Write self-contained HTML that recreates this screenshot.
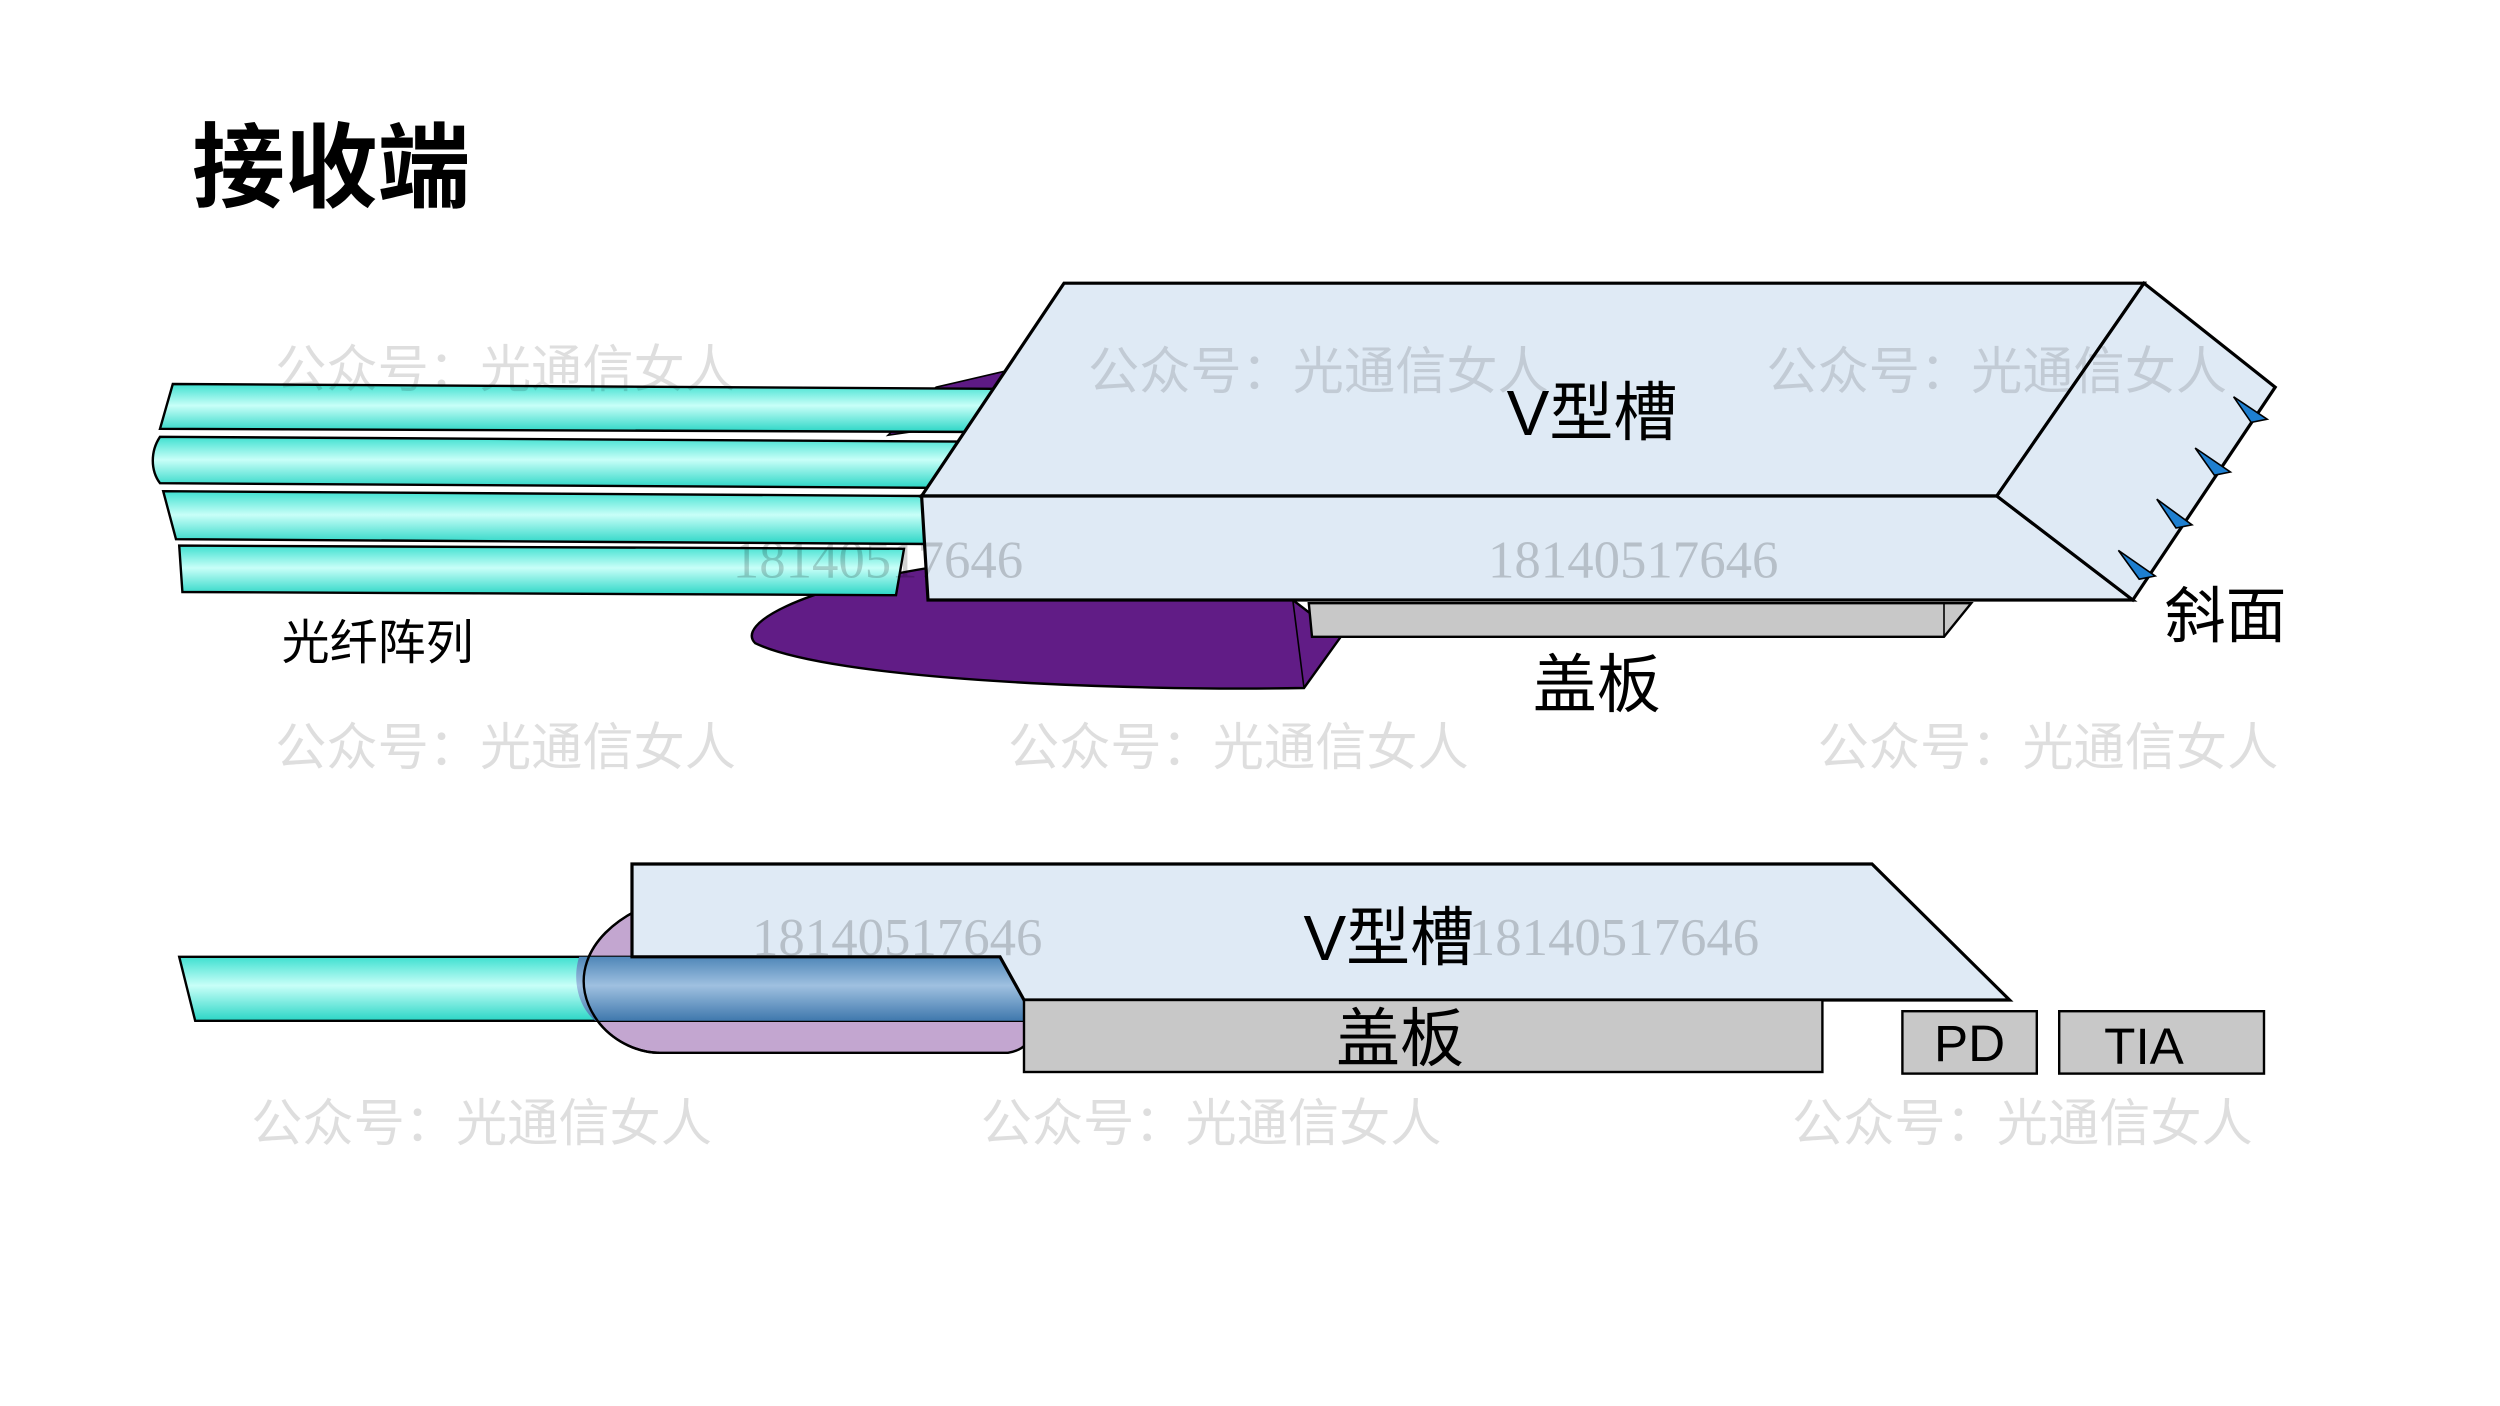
<!DOCTYPE html>
<html><head><meta charset="utf-8"><style>
html,body{margin:0;padding:0;background:#fff;}
svg{display:block;}
</style></head><body>
<svg width="2500" height="1406" viewBox="0 0 1562.5 878.75" xmlns="http://www.w3.org/2000/svg">
<defs>
<linearGradient id="cy" x1="0" y1="0" x2="0" y2="1">
<stop offset="0" stop-color="#3ee0d0"/><stop offset="0.45" stop-color="#c8fff8"/><stop offset="1" stop-color="#2bd6c6"/>
</linearGradient>
<linearGradient id="bl" x1="0" y1="0" x2="0" y2="1">
<stop offset="0" stop-color="#4f86b8"/><stop offset="0.45" stop-color="#9fc0e0"/><stop offset="1" stop-color="#3f78ad"/>
</linearGradient>
</defs>
<rect width="1562.5" height="878.75" fill="#fff"/>
<text x="120" y="125" font-family="Liberation Sans, Noto Sans CJK SC, sans-serif" font-weight="bold" font-size="58" fill="#000">接收端</text>

<path d="M585,242 L628,232 L625,262 L555,272 Z" fill="#5e1a85" stroke="#000"/>
<path d="M790,354 L808,375 L838,398 L815,430 C700,432 520,425 472,402 C460,390 500,368 580,355 Z" fill="#611c86" stroke="#000" stroke-width="1.5"/>
<path d="M808,375 L815,430" stroke="#000" fill="none"/>

<path d="M108,240 L620,243 L618,270 L100,268 Z" fill="url(#cy)" stroke="#000" stroke-width="1.5"/>
<path d="M100,273 L600,276 L598,305 L100,302 C94,294 94,282 100,273 Z" fill="url(#cy)" stroke="#000" stroke-width="1.5"/>
<path d="M102,307 L577,310 L580,340 L110,337 Z" fill="url(#cy)" stroke="#000" stroke-width="1.5"/>
<path d="M112,341 L565,343 L560,372 L114,370 Z" fill="url(#cy)" stroke="#000" stroke-width="1.5"/>

<path d="M818,377 L1232,377 L1215,398 L820,398 Z" fill="#c8c8c8" stroke="#000" stroke-width="1.5"/>
<path d="M1215,377 L1215,398" stroke="#000"/>

<path d="M665,177 L1340,177 L1248,310 L576,310 Z" fill="#dfeaf5" stroke="#000" stroke-width="2"/>
<path d="M576,310 L1248,310 L1333,375 L580,375 Z" fill="#dfeaf5" stroke="#000" stroke-width="2"/>
<path d="M1340,177 L1422,242 L1333,375 L1248,310 Z" fill="#dfeaf5" stroke="#000" stroke-width="2"/>
<g fill="#1e7fd0" stroke="#000" stroke-width="1">
<path d="M1396,248 L1417,262 L1407,264 Z"/>
<path d="M1372,280 L1394,295 L1384,297 Z"/>
<path d="M1348,312 L1370,328 L1360,330 Z"/>
<path d="M1324,344 L1347,360 L1337,362 Z"/>
</g>

<g font-family="Liberation Sans, Noto Sans CJK SC, sans-serif" fill="#000">
<text x="995" y="272" font-size="40" text-anchor="middle">V型槽</text>
<text x="1391" y="398" font-size="38" text-anchor="middle">斜面</text>
<text x="998" y="442" font-size="40" text-anchor="middle">盖板</text>
<text x="236" y="412" font-size="30" text-anchor="middle">光纤阵列</text>
</g>

<path d="M400,568 C365,585 355,615 375,640 C385,652 400,658 412,658 L630,658 C650,655 650,632 640,625 L625,598 L395,598 Z" fill="#c3a6d0" stroke="#000" stroke-width="1.5"/>
<path d="M112,598 L625,598 L640,625 L640,638 L122,638 Z" fill="url(#cy)" stroke="#000" stroke-width="1.5"/>
<path d="M362,598 L625,598 L640,625 L640,638 L372,638 C360,628 358,610 362,598 Z" fill="url(#bl)" stroke="none"/>
<path d="M400,568 C365,585 355,615 375,640 C385,652 400,658 412,658" fill="none" stroke="#000" stroke-width="1.5"/>
<path d="M395,540 L1170,540 L1256,625 L640,625 L625,598 L395,598 Z" fill="#dfeaf5" stroke="#000" stroke-width="2"/>
<rect x="640" y="625" width="499" height="45" fill="#c8c8c8" stroke="#000" stroke-width="1.5"/>
<rect x="1189" y="632" width="84" height="39" fill="#c8c8c8" stroke="#000" stroke-width="1.5"/>
<rect x="1287" y="632" width="128" height="39" fill="#c8c8c8" stroke="#000" stroke-width="1.5"/>
<g font-family="Liberation Sans, Noto Sans CJK SC, sans-serif" fill="#000">
<text x="868" y="600" font-size="40" text-anchor="middle">V型槽</text>
<text x="875" y="663" font-size="40" text-anchor="middle">盖板</text>
<text x="1231" y="663" font-size="32" text-anchor="middle">PD</text>
<text x="1340" y="665" font-size="32" text-anchor="middle">TIA</text>
</g>

<g font-family="Liberation Sans, Noto Sans CJK SC, sans-serif" font-size="32" fill="#000" fill-opacity="0.13">
<text x="172" y="242">公众号：光通信女人</text>
<text x="680" y="243">公众号：光通信女人</text>
<text x="1104" y="243">公众号：光通信女人</text>
<text x="172" y="478">公众号：光通信女人</text>
<text x="630" y="478">公众号：光通信女人</text>
<text x="1136" y="478">公众号：光通信女人</text>
<text x="157" y="713">公众号：光通信女人</text>
<text x="613" y="713">公众号：光通信女人</text>
<text x="1120" y="713">公众号：光通信女人</text>
</g>
<g font-family="Liberation Serif, serif" font-size="33" fill="#000" fill-opacity="0.18">
<text x="458" y="361">18140517646</text>
<text x="930" y="361">18140517646</text>
<text x="470" y="597">18140517646</text>
<text x="918" y="597">18140517646</text>
</g>
</svg>
</body></html>
